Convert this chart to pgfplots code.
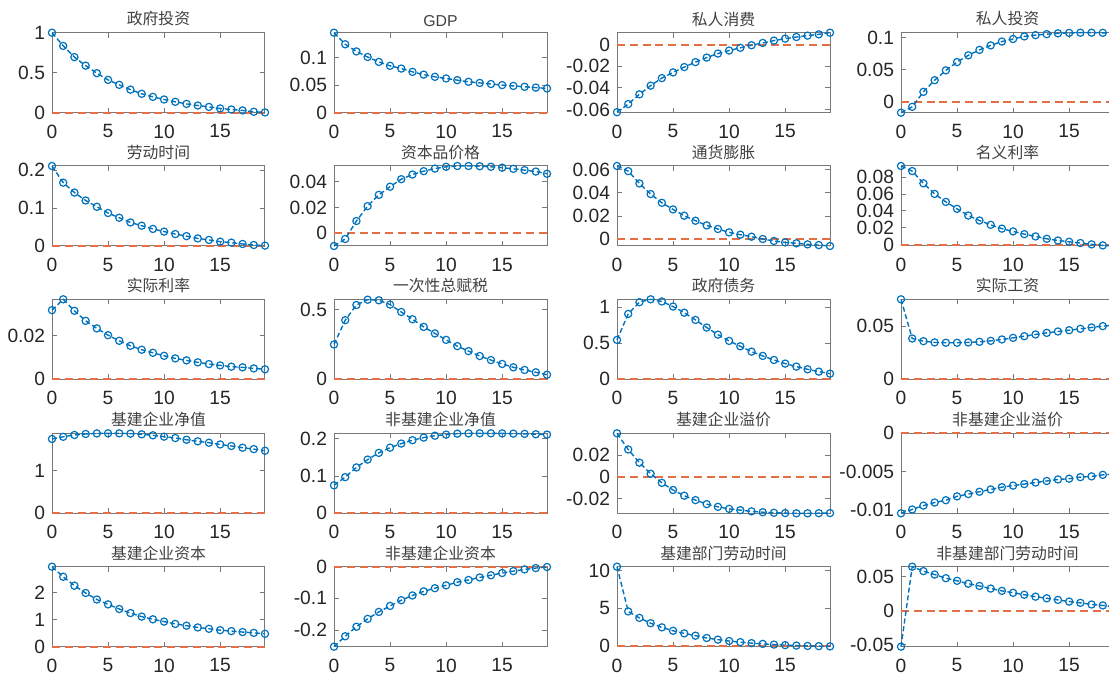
\documentclass[border=0pt]{standalone}
\usepackage{pgfplots}
\pgfplotsset{compat=1.18}
\usepackage{fontspec}
\setmainfont{Liberation Sans}
\newfontfamily\cjk{Noto Sans CJK SC}
\definecolor{mblue}{RGB}{0,114,189}
\definecolor{mred}{RGB}{230,110,70}
\definecolor{axgray}{RGB}{120,120,120}
\definecolor{labgray}{RGB}{38,38,38}
\pgfplotsset{
 every axis title shift=0pt,
 irf/.style={
  scale only axis, width=106.5pt, height=40pt, anchor=south west,
  xmin=0, xmax=19, xtick={0,5,10,15},
  axis line style={axgray, line width=0.5pt},
  tick style={axgray, line width=0.4pt},
  major tick length=2.5pt,
  tick align=inside,
  clip=false,
  scaled y ticks=false, scaled x ticks=false,
  /pgf/number format/assume math mode=true,
  /pgf/number format/fixed,
  /pgf/number format/precision=3,
  tick label style={font=\fontsize{9.6}{10}\selectfont, text=labgray},
  xticklabel style={yshift=-2.5pt},
  title style={font=\cjk\fontsize{7.9}{9}\selectfont, text=black!75, at={(0.5,1)}, anchor=south, inner sep=0pt, yshift=3pt},
 },
 zl/.style={mred, line width=1pt, dash pattern=on 4pt off 2.4pt, forget plot},
 bl/.style={mblue, line width=0.7pt, dash pattern=on 2.5pt off 1.4pt, mark=o, mark size=1.8pt, mark options={solid, line width=0.6pt}},
}
\newcommand\irf[5]{%
\begin{axis}[irf, at={(#1pt,#2pt)}, title={#3}, #4]
\addplot[zl] coordinates {(0,0) (19,0)};
\addplot[bl] coordinates {#5};
\end{axis}}
\begin{document}
\begin{tikzpicture}
\path[use as bounding box] (0,0) rectangle (554.5pt,337.5pt);
% row 1
\irf{26}{281.15}{政府投资}{ymin=0,ymax=1,ytick={0,0.5,1}}{(0,1) (1,0.835) (2,0.695) (3,0.588) (4,0.494) (5,0.41) (6,0.348) (7,0.288) (8,0.236) (9,0.198) (10,0.165) (11,0.136) (12,0.11) (13,0.09) (14,0.072) (15,0.053) (16,0.04) (17,0.028) (18,0.012) (19,0.003)}
\irf{167}{281.15}{{\normalfont GDP}}{ymin=0,ymax=0.145,ytick={0,0.05,0.1}}{(0,0.145) (1,0.124) (2,0.111) (3,0.101) (4,0.092) (5,0.085) (6,0.080) (7,0.074) (8,0.069) (9,0.065) (10,0.062) (11,0.059) (12,0.056) (13,0.054) (14,0.052) (15,0.050) (16,0.0485) (17,0.047) (18,0.0455) (19,0.044)}
\irf{308.5}{281.15}{私人消费}{ymin=-0.063,ymax=0.011,ytick={-0.06,-0.04,-0.02,0}}{(0,-0.0625) (1,-0.055) (2,-0.046) (3,-0.038) (4,-0.031) (5,-0.0257) (6,-0.0208) (7,-0.0162) (8,-0.012) (9,-0.0083) (10,-0.0055) (11,-0.003) (12,-0.0006) (13,0.0015) (14,0.0037) (15,0.0055) (16,0.007) (17,0.0083) (18,0.0095) (19,0.011)}
\irf{450.5}{281.15}{私人投资}{ymin=-0.017,ymax=0.1078,ytick={0,0.05,0.1}}{(0,-0.017) (1,-0.0078) (2,0.0155) (3,0.0337) (4,0.049) (5,0.062) (6,0.0725) (7,0.081) (8,0.088) (9,0.094) (10,0.098) (11,0.102) (12,0.104) (13,0.1055) (14,0.1068) (15,0.1075) (16,0.1078) (17,0.1078) (18,0.1076) (19,0.107)}
% row 2
\irf{26}{214.5}{劳动时间}{ymin=0,ymax=0.211,ytick={0,0.1,0.2}}{(0,0.211) (1,0.167) (2,0.141) (3,0.120) (4,0.1035) (5,0.087) (6,0.0745) (7,0.062) (8,0.0535) (9,0.045) (10,0.038) (11,0.0315) (12,0.026) (13,0.020) (14,0.016) (15,0.0114) (16,0.0088) (17,0.0053) (18,0.0026) (19,0.001)}
\irf{167}{214.5}{资本品价格}{ymin=-0.0098,ymax=0.052,ytick={0,0.02,0.04}}{(0,-0.0098) (1,-0.0044) (2,0.0095) (3,0.021) (4,0.0297) (5,0.036) (6,0.0418) (7,0.0454) (8,0.048) (9,0.050) (10,0.0514) (11,0.052) (12,0.052) (13,0.0518) (14,0.0514) (15,0.0507) (16,0.0498) (17,0.0488) (18,0.0477) (19,0.046)}
\irf{308.5}{214.5}{通货膨胀}{ymin=-0.0057,ymax=0.063,ytick={0,0.02,0.04,0.06}}{(0,0.063) (1,0.0586) (2,0.048) (3,0.0389) (4,0.0314) (5,0.0257) (6,0.0203) (7,0.016) (8,0.012) (9,0.0089) (10,0.006) (11,0.004) (12,0.0023) (13,0.0003) (14,-0.0014) (15,-0.0026) (16,-0.0034) (17,-0.0043) (18,-0.0049) (19,-0.0057)}
\irf{450.5}{214.5}{名义利率}{ymin=-0.0015,ymax=0.093,ytick={0,0.02,0.04,0.06,0.08}}{(0,0.093) (1,0.087) (2,0.0725) (3,0.060) (4,0.0506) (5,0.0424) (6,0.0345) (7,0.0286) (8,0.0235) (9,0.019) (10,0.0157) (11,0.0125) (12,0.0098) (13,0.007) (14,0.005) (15,0.0035) (16,0.002) (17,0.0004) (18,-0.0008) (19,-0.0015)}
% row 3
\irf{26}{147.85}{实际利率}{ymin=0,ymax=0.0368,ytick={0,0.02}}{(0,0.0318) (1,0.0368) (2,0.0315) (3,0.0269) (4,0.0234) (5,0.0203) (6,0.0177) (7,0.0154) (8,0.0136) (9,0.0122) (10,0.0108) (11,0.0096) (12,0.0087) (13,0.0078) (14,0.007) (15,0.0064) (16,0.0058) (17,0.0055) (18,0.005) (19,0.0046)}
\irf{167}{147.85}{一次性总赋税}{ymin=0,ymax=0.574,ytick={0,0.5}}{(0,0.25) (1,0.424) (2,0.533) (3,0.571) (4,0.567) (5,0.536) (6,0.483) (7,0.431) (8,0.376) (9,0.329) (10,0.283) (11,0.238) (12,0.202) (13,0.167) (14,0.138) (15,0.11) (16,0.086) (17,0.067) (18,0.05) (19,0.033)}
\irf{308.5}{147.85}{政府债务}{ymin=0,ymax=1.105,ytick={0,0.5,1}}{(0,0.544) (1,0.903) (2,1.065) (3,1.105) (4,1.075) (5,1.005) (6,0.92) (7,0.82) (8,0.715) (9,0.617) (10,0.53) (11,0.456) (12,0.382) (13,0.323) (14,0.267) (15,0.217) (16,0.175) (17,0.138) (18,0.106) (19,0.078)}
\irf{450.5}{147.85}{实际工资}{ymin=0,ymax=0.0753,ytick={0,0.05}}{(0,0.0753) (1,0.0384) (2,0.0359) (3,0.0347) (4,0.0344) (5,0.0344) (6,0.0347) (7,0.0353) (8,0.0362) (9,0.0375) (10,0.039) (11,0.0406) (12,0.0422) (13,0.0437) (14,0.045) (15,0.0462) (16,0.0475) (17,0.0488) (18,0.05) (19,0.051)}
% row 4
\irf{26}{80.85}{基建企业净值}{ymin=0,ymax=1.882,ytick={0,1}}{(0,1.748) (1,1.80) (2,1.843) (3,1.866) (4,1.879) (5,1.882) (6,1.881) (7,1.874) (8,1.858) (9,1.835) (10,1.803) (11,1.77) (12,1.73) (13,1.693) (14,1.66) (15,1.62) (16,1.583) (17,1.543) (18,1.51) (19,1.472)}
\irf{167}{80.85}{非基建企业净值}{ymin=0,ymax=0.2145,ytick={0,0.1,0.2}}{(0,0.075) (1,0.097) (2,0.123) (3,0.144) (4,0.162) (5,0.176) (6,0.187) (7,0.196) (8,0.203) (9,0.208) (10,0.211) (11,0.2135) (12,0.2143) (13,0.2145) (14,0.2145) (15,0.2142) (16,0.2136) (17,0.213) (18,0.212) (19,0.211)}
\irf{308.5}{80.85}{基建企业溢价}{ymin=-0.0338,ymax=0.0403,ytick={-0.02,0,0.02}}{(0,0.0403) (1,0.0253) (2,0.0131) (3,0.0028) (4,-0.0056) (5,-0.0122) (6,-0.0175) (7,-0.0216) (8,-0.0253) (9,-0.0278) (10,-0.0297) (11,-0.0309) (12,-0.0320) (13,-0.0328) (14,-0.0333) (15,-0.0336) (16,-0.0338) (17,-0.0338) (18,-0.0337) (19,-0.0336)}
\irf{450.5}{80.85}{非基建企业溢价}{ymin=-0.0104,ymax=0,ytick={-0.01,-0.005,0}}{(0,-0.0104) (1,-0.0099) (2,-0.0094) (3,-0.009) (4,-0.0087) (5,-0.0082) (6,-0.0079) (7,-0.0076) (8,-0.0073) (9,-0.007) (10,-0.0068) (11,-0.0066) (12,-0.0064) (13,-0.0062) (14,-0.006) (15,-0.0059) (16,-0.0057) (17,-0.0056) (18,-0.0054) (19,-0.0053)}
% row 5
\irf{26}{14.15}{基建企业资本}{ymin=0,ymax=2.95,ytick={0,1,2}}{(0,2.95) (1,2.58) (2,2.25) (3,1.98) (4,1.74) (5,1.56) (6,1.39) (7,1.24) (8,1.11) (9,1.01) (10,0.925) (11,0.84) (12,0.775) (13,0.71) (14,0.66) (15,0.61) (16,0.575) (17,0.54) (18,0.51) (19,0.475)}
\irf{167}{14.15}{非基建企业资本}{ymin=-0.253,ymax=0,ytick={-0.2,-0.1,0}}{(0,-0.253) (1,-0.22) (2,-0.19) (3,-0.165) (4,-0.143) (5,-0.124) (6,-0.106) (7,-0.091) (8,-0.078) (9,-0.068) (10,-0.059) (11,-0.049) (12,-0.042) (13,-0.034) (14,-0.027) (15,-0.02) (16,-0.014) (17,-0.0086) (18,-0.0043) (19,-0.001)}
\irf{308.5}{14.15}{基建部门劳动时间}{ymin=-0.05,ymax=10.5,ytick={0,5,10}}{(0,10.5) (1,4.6) (2,3.75) (3,3.05) (4,2.5) (5,2.05) (6,1.7) (7,1.4) (8,1.1) (9,0.88) (10,0.7) (11,0.55) (12,0.42) (13,0.32) (14,0.23) (15,0.16) (16,0.1) (17,0.05) (18,0.02) (19,-0.01)}
\irf{450.5}{14.15}{非基建部门劳动时间}{ymin=-0.053,ymax=0.0645,ytick={-0.05,0,0.05}}{(0,-0.053) (1,0.0645) (2,0.058) (3,0.053) (4,0.0476) (5,0.0438) (6,0.0395) (7,0.0362) (8,0.0324) (9,0.029) (10,0.0262) (11,0.0233) (12,0.0205) (13,0.0181) (14,0.0157) (15,0.0133) (16,0.0114) (17,0.009) (18,0.0076) (19,0.0057)}
\end{tikzpicture}
\end{document}
